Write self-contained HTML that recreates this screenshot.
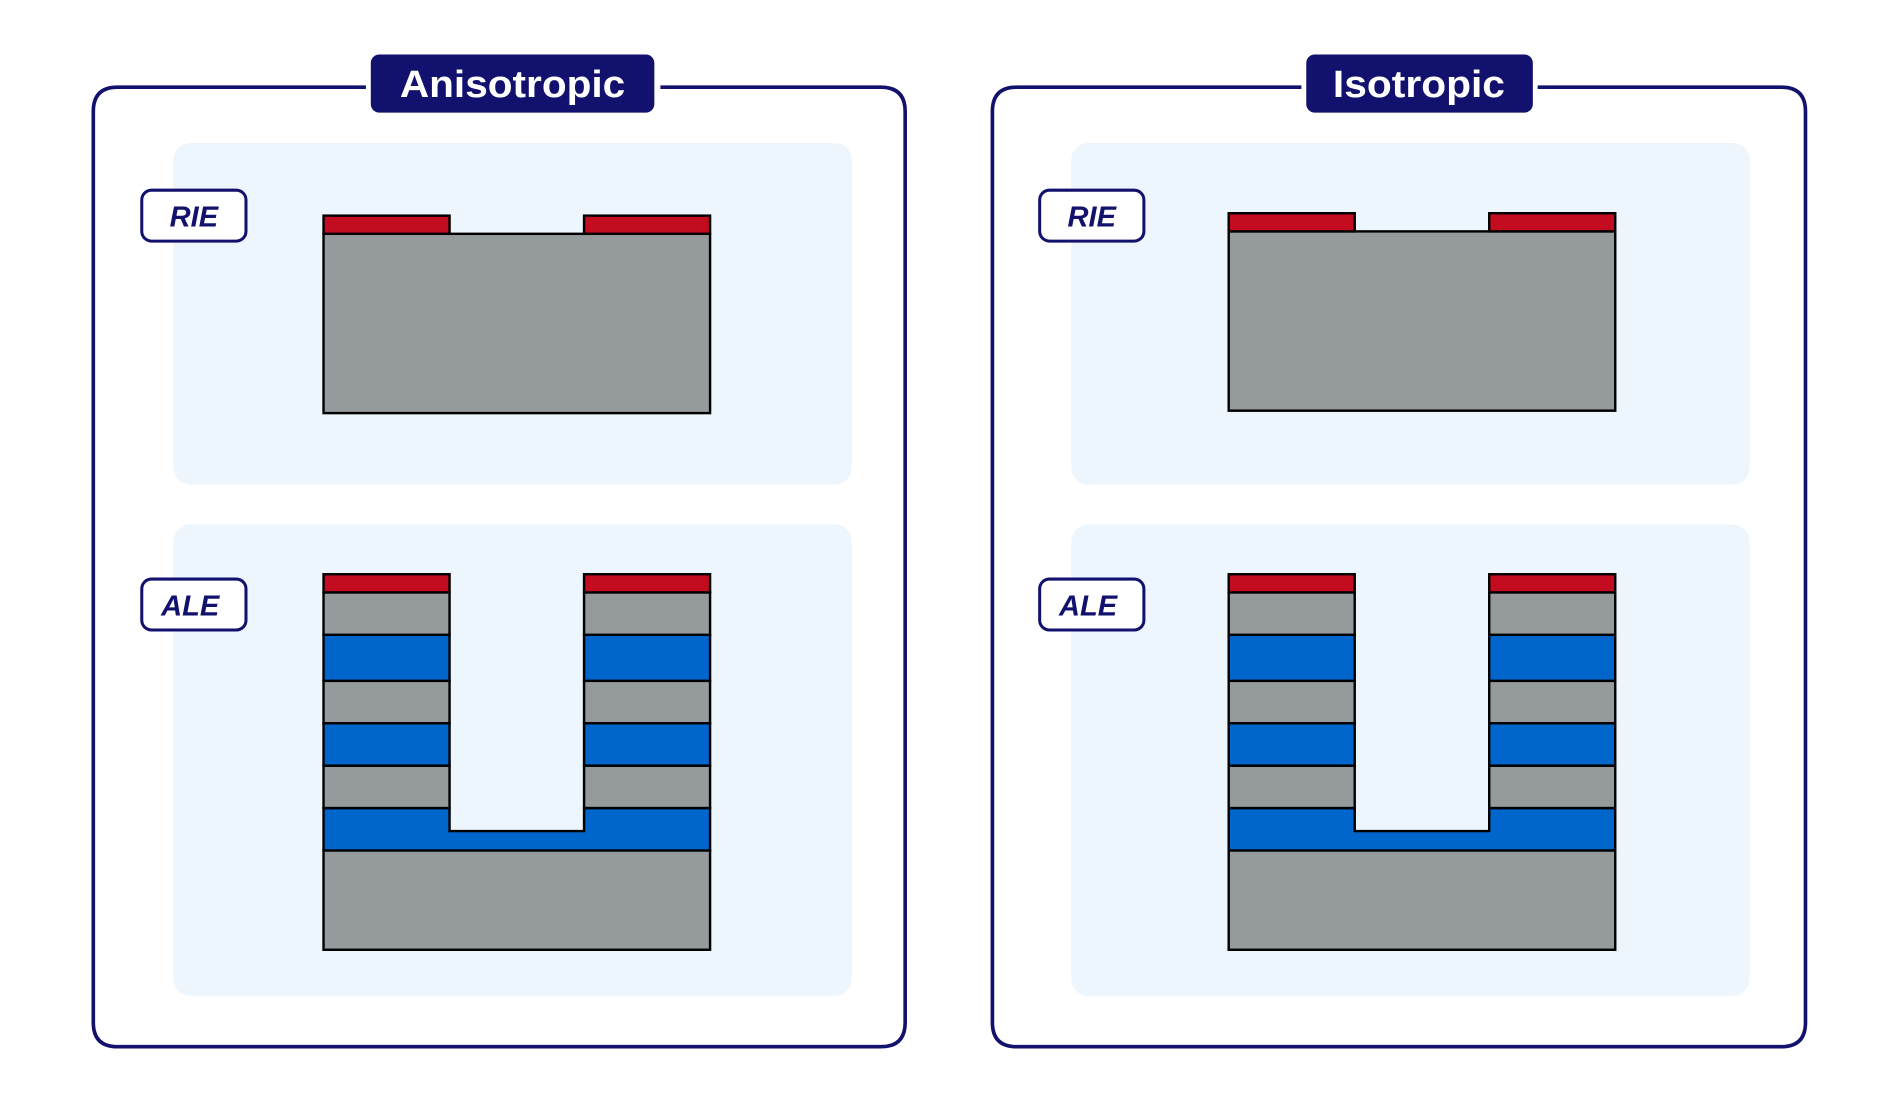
<!DOCTYPE html>
<html><head><meta charset="utf-8"><style>html,body{margin:0;padding:0;background:#fff}svg{display:block}</style></head>
<body>
<svg width="1900" height="1100" viewBox="0 0 1568 908" preserveAspectRatio="none" xmlns="http://www.w3.org/2000/svg">
<defs>
<g id="rie">
  <rect x="0" y="15" width="319" height="148" fill="#959a9d" stroke="#000" stroke-width="2"/>
  <rect x="0" y="0" width="104" height="15" fill="#c30c20" stroke="#000" stroke-width="2"/>
  <rect x="215" y="0" width="104" height="15" fill="#c30c20" stroke="#000" stroke-width="2"/>
</g>
<g id="ale" stroke="#000" stroke-width="2">
  <rect x="0" y="228" width="319" height="82" fill="#959a9d"/>
  <path d="M0 193 H104 V212 H215 V193 H319 V228 H0 Z" fill="#0066cc"/>
  <g id="col">
    <rect x="0" y="158" width="104" height="35" fill="#959a9d"/>
    <rect x="0" y="123" width="104" height="35" fill="#0066cc"/>
    <rect x="0" y="88" width="104" height="35" fill="#959a9d"/>
    <rect x="0" y="50" width="104" height="38" fill="#0066cc"/>
    <rect x="0" y="15" width="104" height="35" fill="#959a9d"/>
    <rect x="0" y="0" width="104" height="15" fill="#c30c20"/>
  </g>
  <use href="#col" x="215"/>
</g>
</defs>
<g font-family="Liberation Sans, sans-serif" font-weight="bold">
<!-- Left -->
<path d="M302 72 H97 Q77 72 77 92 V844 Q77 864 97 864 H727 Q747 864 747 844 V92 Q747 72 727 72 H545" fill="none" stroke="#12126e" stroke-width="3"/>
<rect x="306" y="45" width="234" height="48" rx="7" fill="#12126e"/>
<text x="423" y="80" fill="#fff" font-size="31" text-anchor="middle" textLength="186" lengthAdjust="spacingAndGlyphs">Anisotropic</text>
<rect x="143" y="118" width="560" height="282" rx="14" fill="#eef6fd"/>
<rect x="143" y="433" width="560" height="389" rx="14" fill="#eef6fd"/>
<rect x="117" y="157" width="86" height="42" rx="8" fill="#fff" stroke="#12126e" stroke-width="2.5"/>
<text x="160" y="187" fill="#12126e" font-size="24" font-style="italic" text-anchor="middle">RIE</text>
<rect x="117" y="478" width="86" height="42" rx="8" fill="#fff" stroke="#12126e" stroke-width="2.5"/>
<text x="157" y="508" fill="#12126e" font-size="24" font-style="italic" text-anchor="middle">ALE</text>
<use href="#rie" x="267" y="178"/>
<use href="#ale" x="267" y="474"/>
<!-- Right -->
<path d="M1074 72 H839 Q819 72 819 92 V844 Q819 864 839 864 H1470 Q1490 864 1490 844 V92 Q1490 72 1470 72 H1269" fill="none" stroke="#12126e" stroke-width="3"/>
<rect x="1078" y="45" width="187" height="48" rx="7" fill="#12126e"/>
<text x="1171" y="80" fill="#fff" font-size="31" text-anchor="middle" textLength="142" lengthAdjust="spacingAndGlyphs">Isotropic</text>
<rect x="884" y="118" width="560" height="282" rx="14" fill="#eef6fd"/>
<rect x="884" y="433" width="560" height="389" rx="14" fill="#eef6fd"/>
<rect x="858" y="157" width="86" height="42" rx="8" fill="#fff" stroke="#12126e" stroke-width="2.5"/>
<text x="901" y="187" fill="#12126e" font-size="24" font-style="italic" text-anchor="middle">RIE</text>
<rect x="858" y="478" width="86" height="42" rx="8" fill="#fff" stroke="#12126e" stroke-width="2.5"/>
<text x="898" y="508" fill="#12126e" font-size="24" font-style="italic" text-anchor="middle">ALE</text>
<use href="#rie" x="1014" y="176"/>
<use href="#ale" x="1014" y="474"/>
</g>
</svg>
</body></html>
